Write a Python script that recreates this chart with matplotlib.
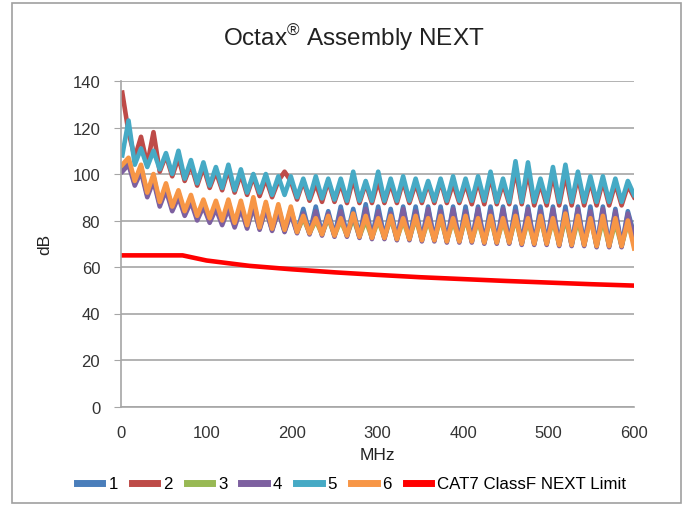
import numpy as np
import matplotlib
matplotlib.use("Agg")
import matplotlib.pyplot as plt
from matplotlib.patches import Rectangle

plt.rcParams['font.family'] = ['Liberation Sans', 'DejaVu Sans']

# Sweep frequencies (MHz) shared by the six pair measurements
freq = 1.5 + 7.3 * np.arange(83)

pair1 = [102, 106, 96, 103, 91, 99, 87, 95, 85, 92,
         83, 90, 81, 88, 80, 87, 79, 88, 78, 87,
         77.5, 88, 77, 87, 76, 86, 75.5, 85, 75, 85,
         74.5, 86, 74, 84, 73.5, 86, 73.5, 85, 73, 87,
         72.5, 86, 72.5, 85, 72, 86, 72, 86, 71.5, 86,
         71.5, 86, 71, 86, 71, 86, 71, 86, 70.5, 86,
         70.5, 86, 70.5, 86, 70, 86, 70, 86, 70, 86,
         69.5, 86, 69.5, 86, 69.5, 86, 69, 86, 69, 85,
         69, 84, 74]
pair2 = [135, 118, 107, 116, 104, 118, 101, 108, 99, 107,
         97, 104, 95, 103, 94, 101, 93, 102, 92, 100,
         91, 99, 90.5, 98, 90, 97, 101, 97, 89, 97,
         88.5, 96, 88, 97, 88, 96, 87.5, 98, 87.5, 96,
         87.5, 97, 87.5, 96, 87.5, 97, 87.5, 96, 87.5, 96,
         87.5, 97, 87.5, 96, 87.5, 96, 87, 97, 87, 99,
         87, 96, 87, 102, 87, 101, 86.5, 96, 86.5, 100,
         86.5, 100, 86.5, 99, 86.5, 97, 86.5, 97, 86.5, 96,
         86.5, 95, 90]
pair3 = [103, 105, 96, 102, 91, 98, 87, 94, 85, 91,
         83, 89, 81, 87, 80, 86, 79, 86, 78, 86,
         77, 86, 76.5, 85, 76, 84, 75.5, 83, 75, 81,
         74.5, 80, 74, 81, 73.5, 80, 73.5, 81, 73, 80,
         72.5, 80, 72.5, 81, 72, 80, 72, 81, 71.5, 80,
         71.5, 81, 71, 80, 71, 81, 71, 80, 70.5, 81,
         70.5, 80, 70.5, 81, 70, 80, 70, 81, 70, 80,
         69.5, 81, 69.5, 80, 69.5, 81, 69, 80, 69, 79,
         69, 79, 70]
pair4 = [101, 104, 95, 101, 90, 97, 86, 93, 84, 90,
         82, 88, 80, 86, 79, 85, 78, 85, 77, 85,
         76.5, 86, 76, 85, 75.5, 84, 75, 83, 74.5, 83,
         74, 84, 73.5, 83, 73, 84, 73, 83, 72.5, 85,
         72, 84, 72, 83, 71.5, 85, 71.5, 84, 71, 85,
         71, 84, 70.5, 85, 70.5, 84, 70.5, 85, 70, 84,
         70, 85, 70, 84, 69.5, 85, 69.5, 84, 69.5, 85,
         69, 84, 69, 85, 69, 84, 68.5, 85, 68.5, 84,
         68.5, 83, 73]
pair5 = [108, 123, 104, 111, 103, 110, 102, 109, 100, 110,
         98, 106, 96, 105, 95, 103, 94, 104, 93, 102,
         92, 100, 92, 100, 91, 99, 91, 99, 90, 98,
         89.5, 99, 89.5, 98, 89, 98, 88.5, 101, 88.5, 97,
         88.5, 101, 88.5, 98, 88.5, 99, 88.5, 98, 88.5, 97,
         88.5, 98, 88.5, 99, 88.5, 98, 88.5, 99, 88.5, 101,
         88, 98, 88, 105.5, 88, 105, 88, 98, 88, 103,
         88, 104, 88, 101, 88, 99, 88, 99, 88, 98,
         88, 97, 91]
pair6 = [104, 107, 97, 104, 92, 100, 88, 96, 86, 93,
         84, 91, 82, 89, 81, 88.5, 80, 89, 79, 88.5,
         78, 90, 77, 88, 76.5, 87, 76, 86, 75, 82,
         74.5, 81, 74, 82, 73.5, 81, 73.5, 83, 73, 82,
         72.5, 81, 72.5, 82, 72, 81, 72, 82, 71.5, 81,
         71.5, 82, 71, 81, 71, 82, 71, 81, 70.5, 82,
         70.5, 81, 70.5, 82, 70, 81, 70, 82, 70, 81,
         69.5, 83, 69.5, 82, 69.5, 81, 69, 82, 69, 81,
         69, 80, 68]

limit_freq = [1, 72, 100, 150, 200, 250, 300, 350, 400, 450, 500, 550, 600]
limit_db = [65, 65, 62.8, 60.5, 59, 57.7, 56.6, 55.6, 54.8, 54, 53.3, 52.6, 52]

series_names = ['1', '2', '3', '4', '5', '6']
series_colors = ['#4A7EBB', '#BE4B48', '#98B954', '#7D60A0', '#46AAC5', '#F79646']
limit_name = 'CAT7 ClassF NEXT Limit'
limit_color = '#FF0000'

x_ticks = [0, 100, 200, 300, 400, 500, 600]
y_ticks = [0, 20, 40, 60, 80, 100, 120, 140]

fig = plt.figure(figsize=(6.84, 5.10), dpi=100)
ax = fig.add_axes([121 / 684, 1 - 407.5 / 510, (634 - 121) / 684, (407.5 - 82) / 510])

for name, vals, col in zip(series_names, [pair1, pair2, pair3, pair4, pair5, pair6], series_colors):
    ax.plot(freq, vals, color=col, lw=3.3, label=name, solid_joinstyle='round')
ax.plot(limit_freq, limit_db, color=limit_color, lw=3.3, label=limit_name)

ax.set_xlim(0, 600)
ax.set_ylim(0, 140)
ax.set_xticks(x_ticks)
ax.set_yticks(y_ticks)
ax.yaxis.grid(True, color='#A6A6A6', lw=1.2)
ax.set_axisbelow(True)
for s in ['top', 'right']:
    ax.spines[s].set_visible(False)
for s in ['left', 'bottom']:
    ax.spines[s].set_color('#A6A6A6')
    ax.spines[s].set_linewidth(1.2)
ax.tick_params(axis='y', length=5, color='#A6A6A6', labelsize=12, labelcolor='#333333', pad=10)
ax.tick_params(axis='x', length=0, labelsize=12, labelcolor='#333333', pad=13)

ax.set_xlabel('MHz', fontsize=12.5, color='#222222')
ax.xaxis.set_label_coords(0.5, -0.124)
ax.set_ylabel('dB', fontsize=12.5, color='#222222')
ax.yaxis.set_label_coords(-0.134, 0.5)
fig.text(354 / 684, 1 - 38 / 510, r'Octax$^{\mathregular{®}}$ Assembly NEXT', ha='center', va='center',
         fontsize=17.5, color='#222222')

leg = fig.legend(loc='center', bbox_to_anchor=(0.514, 1 - 485 / 510), ncol=7, frameon=False,
                 fontsize=12.2, handlelength=1.5, columnspacing=0.83, handletextpad=0.35)
for h in leg.get_lines():
    h.set_linewidth(5)

fig.patches.append(Rectangle((12 / 684, 1 - 504 / 510), (681 - 12) / 684, (504 - 4) / 510,
                             transform=fig.transFigure, fill=False, edgecolor='#A0A0A0', lw=1.2))

fig.savefig('out.png', dpi=100)
